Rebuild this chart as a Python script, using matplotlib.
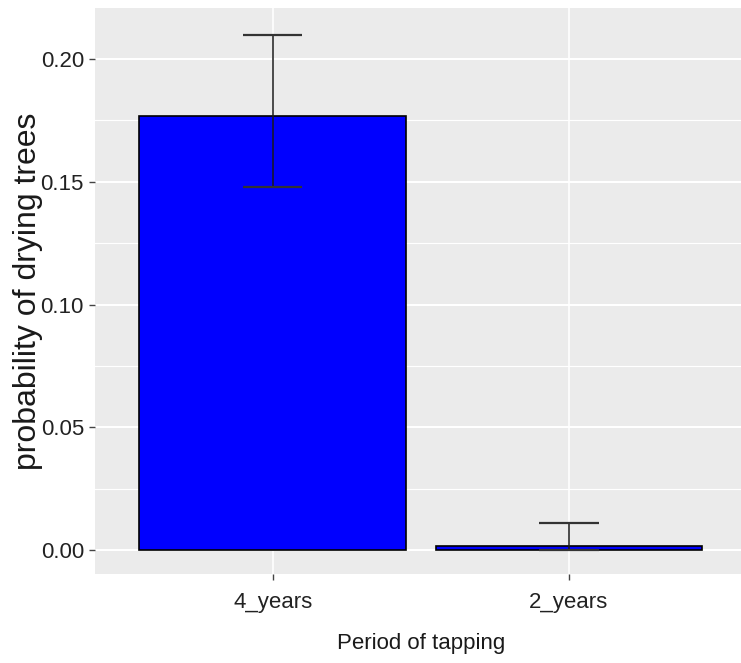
import matplotlib
matplotlib.use("Agg")
import matplotlib.pyplot as plt
import numpy as np

periods = ["4_years", "2_years"]
prob = [0.177, 0.0016]
ci_lower = [0.148, 0.0]
ci_upper = [0.210, 0.011]
y_ticks = [0.00, 0.05, 0.10, 0.15, 0.20]
y_tick_labels = ["0.00", "0.05", "0.10", "0.15", "0.20"]

W, H = 741, 663
fig = plt.figure(figsize=(W / 100, H / 100), dpi=100)
left, right, top, bottom = 95, 746.6, 8, 574
ax = fig.add_axes([left / W, 1 - bottom / H, (right - left) / W, (bottom - top) / H])

ax.set_facecolor("#EBEBEB")
x = np.arange(len(periods)) + 1

# panel grid: major and minor lines in white
ymin, ymax = -0.0097, 0.2208
for yv in np.arange(0, 0.2251, 0.05):
    ax.axhline(yv, color="white", lw=1.5, zorder=0)
for yv in np.arange(0.025, 0.2251, 0.05):
    ax.axhline(yv, color="white", lw=0.8, zorder=0)
for xv in x:
    ax.axvline(xv, color="white", lw=1.2, zorder=0)

ax.bar(x, prob, width=0.9, color="#0000FF", edgecolor="black", linewidth=1.2, zorder=2)

# error bars with caps of width 0.2 in data units
cap = 0.1
ax.vlines(x, ci_lower, ci_upper, color="#1a1a1a", lw=1.1, zorder=3)
ax.hlines(ci_lower, x - cap, x + cap, color="#333333", lw=1.6, zorder=3)
ax.hlines(ci_upper, x - cap, x + cap, color="#333333", lw=1.6, zorder=3)

ax.set_xlim(0.4, 2.6)
ax.set_ylim(ymin, ymax)
ax.set_xticks(x)
ax.set_xticklabels(periods)
ax.set_yticks(y_ticks)
ax.set_yticklabels(y_tick_labels)

for s in ax.spines.values():
    s.set_visible(False)

font = ["Liberation Sans", "DejaVu Sans"]
ax.tick_params(axis="both", colors="#444444", length=4, width=1, labelsize=16)
ax.tick_params(axis="y", pad=4)
ax.tick_params(axis="x", pad=9)
for lab in ax.get_xticklabels() + ax.get_yticklabels():
    lab.set_family(font)
    lab.set_color("#222222")

ax.set_xlabel("Period of tapping", fontsize=16, family=font, color="#1a1a1a", labelpad=14)
ax.set_ylabel("probability of drying trees", fontsize=23, family=font, color="#1a1a1a",
              labelpad=-2)

fig.savefig("out.png", dpi=100)
